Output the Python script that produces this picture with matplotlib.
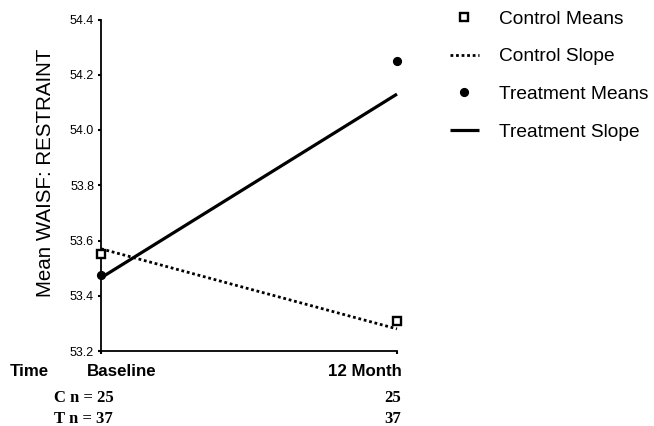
import matplotlib
matplotlib.use("Agg")
import matplotlib.pyplot as plt

# ---- data ----
time_points = ["Baseline", "12 Month"]
control_means = [53.55, 53.31]
control_slope = [53.57, 53.28]
treatment_means = [53.475, 54.25]
treatment_slope = [53.465, 54.13]
control_n = [25, 25]
treatment_n = [37, 37]
y_ticks = [53.2, 53.4, 53.6, 53.8, 54.0, 54.2, 54.4]

SANS = ["Liberation Sans", "DejaVu Sans"]
SERIF = ["Liberation Serif", "DejaVu Serif"]
plt.rcParams["font.family"] = SANS

W, H = 654, 426
fig = plt.figure(figsize=(W / 100, H / 100), dpi=100)
ax = fig.add_axes([101 / W, 1 - 351 / H, (397 - 101) / W, (351 - 19.5) / H])

x = list(range(len(time_points)))

ax.plot(x, control_means, linestyle="none", marker="s", markersize=5.4,
        markerfacecolor="white", markeredgecolor="black", markeredgewidth=1.7,
        clip_on=False, zorder=5, label="Control Means")
ax.plot(x, control_slope, color="black", linewidth=2.0, linestyle=(0, (1, 1)),
        clip_on=False, label="Control Slope")
ax.plot(x, treatment_means, linestyle="none", marker="o", markersize=5.6,
        color="black", clip_on=False, zorder=5, label="Treatment Means")
ax.plot(x, treatment_slope, color="black", linewidth=2.3, solid_capstyle="butt",
        clip_on=False, label="Treatment Slope")

ax.set_xlim(0, 1)
ax.set_ylim(53.2, 54.4)
ax.set_yticks(y_ticks)
ax.set_yticklabels([f"{v:.1f}" for v in y_ticks], fontsize=9)
ax.set_xticks(x)
ax.set_xticklabels([])
ax.tick_params(axis="both", direction="out", length=2, width=1.5, pad=3)

for side in ("top", "right"):
    ax.spines[side].set_visible(False)
for side in ("left", "bottom"):
    ax.spines[side].set_linewidth(1.3)

fig.text(46 / W, 1 - 173 / H, "Mean WAISF: RESTRAINT", rotation=90,
         ha="center", va="center", fontsize=14.8, family=SANS)

# x category labels below axis
row_time = 1 - 372 / H
fig.text(10 / W, row_time, "Time", ha="left", va="center", fontsize=12.2,
         fontweight="bold", family=SANS)
fig.text(122 / W, row_time, time_points[0], ha="center", va="center",
         fontsize=12.2, fontweight="bold", family=SANS)
fig.text(402 / W, row_time, time_points[1], ha="right", va="center",
         fontsize=12.2, fontweight="bold", family=SANS)

row_c = 1 - 398 / H
row_t = 1 - 419 / H
fig.text(54 / W, row_c, f"C n = {control_n[0]}", ha="left", va="center",
         fontsize=12, fontweight="bold", family=SERIF)
fig.text(401 / W, row_c, f"{control_n[1]}", ha="right", va="center",
         fontsize=12, fontweight="bold", family=SERIF)
fig.text(54 / W, row_t, f"T n = {treatment_n[0]}", ha="left", va="center",
         fontsize=12, fontweight="bold", family=SERIF)
fig.text(401 / W, row_t, f"{treatment_n[1]}", ha="right", va="center",
         fontsize=12, fontweight="bold", family=SERIF)

fig.legend(loc="upper left", bbox_to_anchor=(450 / W, 1 - 10.5 / H),
           frameon=False, borderpad=0, borderaxespad=0,
           handlelength=1.5, handletextpad=1.05, labelspacing=1.05,
           prop={"family": SANS, "size": 13.8})

fig.savefig("out.png", dpi=100)
